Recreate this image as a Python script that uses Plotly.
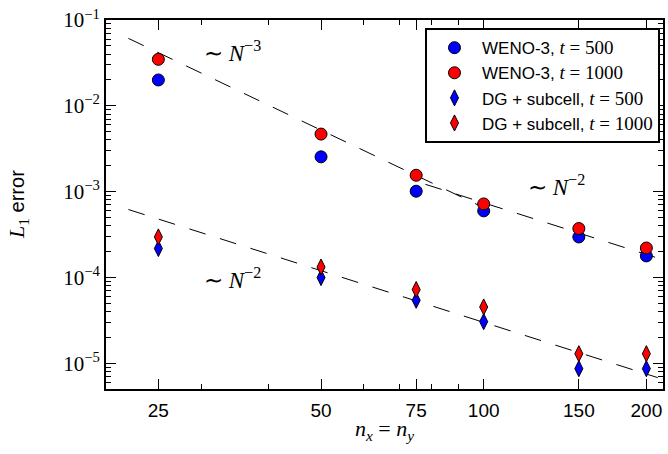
import plotly.graph_objects as go
import numpy as np

# ---------------- data ----------------
n_values = [25, 50, 75, 100, 150, 200]
weno_500 = [2.0e-2, 2.54e-3, 1.01e-3, 5.96e-4, 2.96e-4, 1.78e-4]
weno_1000 = [3.48e-2, 4.68e-3, 1.55e-3, 7.18e-4, 3.71e-4, 2.20e-4]
dg_500 = [2.17e-4, 9.95e-5, 5.41e-5, 3.05e-5, 8.63e-6, 8.63e-6]
dg_1000 = [2.96e-4, 1.32e-4, 7.21e-5, 4.52e-5, 1.29e-5, 1.29e-5]

# reference slope guides (end points)
ref3_x = [22, 100]
ref3_y = [6.11e-2, 6.50e-4]
ref2_upper_x = [78, 210]
ref2_upper_y = [1.216e-3, 1.678e-4]
ref2_lower_x = [22, 210]
ref2_lower_y = [6.18e-4, 6.78e-6]

x_tickvals = [25, 50, 75, 100, 150, 200]
x_ticktext = ["25", "50", "75", "100", "150", "200"]
x_minor = [20, 30, 40, 60, 70, 80, 90]
y_tickvals = [1e-5, 1e-4, 1e-3, 1e-2, 1e-1]
y_ticktext = ["10<sup>\u22125</sup>", "10<sup>\u22124</sup>", "10<sup>\u22123</sup>",
              "10<sup>\u22122</sup>", "10<sup>\u22121</sup>"]
y_minor = [m * 10.0 ** e for e in range(-6, -1) for m in range(2, 10)]

SERIF = "Liberation Serif"
SANS = "Liberation Sans"

def math(s, size=None):
    st = f"font-family:{SERIF}"
    if size:
        st += f";font-size:{size}px"
    return f"<span style='{st}'>{s}</span>"

fig = go.Figure()

guide = dict(color="black", width=1, dash="17px,15px")
for gx, gy in [(ref3_x, ref3_y), (ref2_upper_x, ref2_upper_y), (ref2_lower_x, ref2_lower_y)]:
    fig.add_trace(go.Scatter(x=gx, y=gy, mode="lines", line=guide,
                             showlegend=False, hoverinfo="skip"))

circle = dict(symbol="circle", size=12, line=dict(color="black", width=1))
diamond = dict(symbol="diamond-tall", size=11.5, line=dict(color="black", width=1))

fig.add_trace(go.Scatter(x=n_values, y=weno_500, mode="markers",
                         marker=dict(color="#0000ff", **circle),
                         name="WENO-3, " + math("<i>t</i> = 500", 19)))
fig.add_trace(go.Scatter(x=n_values, y=weno_1000, mode="markers",
                         marker=dict(color="#ff0000", **circle),
                         name="WENO-3, " + math("<i>t</i> = 1000", 19)))
fig.add_trace(go.Scatter(x=n_values, y=dg_500, mode="markers",
                         marker=dict(color="#0000ff", **diamond),
                         name="DG + subcell, " + math("<i>t</i> = 500", 19)))
fig.add_trace(go.Scatter(x=n_values, y=dg_1000, mode="markers",
                         marker=dict(color="#ff0000", **diamond),
                         name="DG + subcell, " + math("<i>t</i> = 1000", 19)))

ann_font = dict(family=SERIF, size=23, color="black")
annotations = [
    dict(x=np.log10(30.1), y=-1.37, text="\u223c <i>N</i><sup>\u22123</sup>"),
    dict(x=np.log10(120), y=-2.925, text="\u223c <i>N</i><sup>\u22122</sup>"),
    dict(x=np.log10(30.1), y=-4.01, text="\u223c <i>N</i><sup>\u22122</sup>"),
]
for a in annotations:
    fig.add_annotation(xref="x", yref="y", showarrow=False, xanchor="left",
                       yanchor="middle", font=ann_font, **a)

# axis titles
fig.add_annotation(xref="paper", yref="paper", x=0.5, y=-0.11, showarrow=False,
                   text="<i>n</i><sub><i>x</i></sub> = <i>n</i><sub><i>y</i></sub>",
                   font=dict(family=SERIF, size=22, color="black"),
                   xanchor="center", yanchor="middle")
fig.add_annotation(xref="paper", yref="paper", x=-0.159, y=0.5, showarrow=False,
                   text=math("<i>L</i><sub>1</sub>", 22) + " error", textangle=-90,
                   font=dict(family=SANS, size=20, color="black"),
                   xanchor="center", yanchor="middle")

axis_common = dict(showline=True, linecolor="black", linewidth=2, mirror="allticks",
                   ticks="inside", ticklen=10, tickwidth=1, tickcolor="black",
                   showgrid=False, zeroline=False)

fig.update_xaxes(type="log", range=[np.log10(20), np.log10(214.7)],
                 tickmode="array", tickvals=x_tickvals, ticktext=x_ticktext,
                 tickfont=dict(family=SANS, size=19, color="black"),
                 ticklabelstandoff=3,
                 minor=dict(tickvals=x_minor, ticks="inside", ticklen=5,
                            tickwidth=1, tickcolor="black", showgrid=False),
                 **axis_common)
fig.update_yaxes(type="log", range=[np.log10(5e-6), -1],
                 tickmode="array", tickvals=y_tickvals, ticktext=y_ticktext,
                 tickfont=dict(family=SERIF, size=21, color="black"),
                 minor=dict(tickvals=y_minor, ticks="inside", ticklen=5,
                            tickwidth=1, tickcolor="black", showgrid=False),
                 **axis_common)

fig.update_layout(
    width=668, height=454,
    margin=dict(l=106, r=5, t=20, b=65, autoexpand=False),
    paper_bgcolor="white", plot_bgcolor="white",
    font=dict(family=SANS, color="black"),
    legend=dict(x=0.9946, y=0.978, xanchor="right", yanchor="top",
                bgcolor="white", bordercolor="black", borderwidth=2,
                font=dict(family=SANS, size=17, color="black"),
                tracegroupgap=0, itemsizing="trace", itemwidth=45),
    showlegend=True,
)

fig.write_html("out.html")
